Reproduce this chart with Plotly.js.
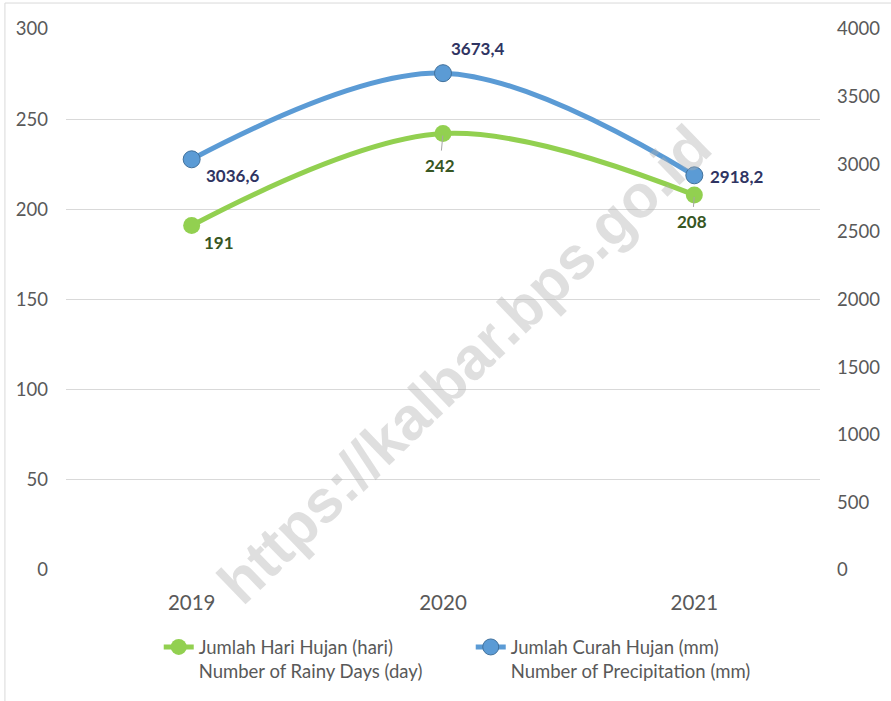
<!DOCTYPE html>
<html>
<head>
<meta charset="utf-8">
<script src="https://cdn.plot.ly/plotly-3.0.1.min.js"></script>
<style>html,body{margin:0;padding:0;background:#fff;}#chart{width:891px;height:701px;}</style>
</head>
<body>
<div id="chart"></div>
<script>
const years = ["2019", "2020", "2021"];
const rainyDays = [191, 242, 208];
const precipitation = [3036.6, 3673.4, 2918.2];
const rainyLabels = ["191", "242", "208"];
const precipLabels = ["3036,6", "3673,4", "2918,2"];
const leftTicks = [0, 50, 100, 150, 200, 250, 300];
const rightTicks = [0, 500, 1000, 1500, 2000, 2500, 3000, 3500, 4000];
const seriesNames = [
  "Jumlah Hari Hujan (hari)<br>Number of Rainy Days (day)",
  "Jumlah Curah Hujan (mm)<br>Number of Precipitation (mm)"
];
const watermark = "https://kalbar.bps.go.id";

const green = "#92D050";
const blue = "#5B9BD5";
const FONT = "Lato, 'Open Sans', sans-serif";

const traces = [
  {
    x: years, y: rainyDays, name: seriesNames[0], yaxis: "y",
    type: "scatter", mode: "lines+markers",
    line: {color: green, width: 5, shape: "spline", smoothing: 1},
    marker: {color: green, size: 17, line: {color: green, width: 0}}
  },
  {
    x: years, y: precipitation, name: seriesNames[1], yaxis: "y2",
    type: "scatter", mode: "lines+markers",
    line: {color: blue, width: 5, shape: "spline", smoothing: 1},
    marker: {color: blue, size: 17, line: {color: "#41719C", width: 1}}
  }
];

const greenOffsets = [[27, 17], [-3, 32], [-2, 27]];
const greenLeader = [false, true, true];
const blueOffsets = [[41, 16], [34, -25], [42, 1]];
const annotations = [];
years.forEach((yr, i) => {
  const g = {
    x: i, y: rainyDays[i], xref: "x", yref: "y",
    text: "<b>" + rainyLabels[i] + "</b>",
    font: {family: FONT, size: 17, color: "#375623"}
  };
  if (greenLeader[i]) {
    Object.assign(g, {showarrow: true, arrowhead: 0, arrowwidth: 1, arrowcolor: "#A6A6A6",
      ax: greenOffsets[i][0], ay: greenOffsets[i][1], startstandoff: 3, standoff: 2});
  } else {
    Object.assign(g, {showarrow: false, xshift: greenOffsets[i][0], yshift: -greenOffsets[i][1]});
  }
  annotations.push(g);
  annotations.push({
    x: i, y: precipitation[i], xref: "x", yref: "y2",
    text: "<b>" + precipLabels[i] + "</b>", showarrow: false,
    xshift: blueOffsets[i][0], yshift: -blueOffsets[i][1],
    font: {family: FONT, size: 17, color: "#2F3462"}
  });
});
annotations.push({
  x: 0.528, y: 0.38, xref: "paper", yref: "paper",
  text: "<b>" + watermark + "</b>", showarrow: false, textangle: -44,
  font: {family: "'Liberation Sans', Arial, sans-serif", size: 60, color: "rgba(175,175,175,0.4)"}
});

const layout = {
  width: 891, height: 701,
  margin: {l: 66, r: 71, t: 29, b: 131, autoexpand: false},
  paper_bgcolor: "#fff", plot_bgcolor: "#fff",
  font: {family: FONT, color: "#595959"},
  showlegend: true,
  xaxis: {
    type: "category", range: [-0.5, 2.5],
    showgrid: false, zeroline: false, showline: false,
    ticks: "", ticklabelstandoff: 18,
    tickfont: {family: FONT, size: 20.5, color: "#595959"}
  },
  yaxis: {
    range: [0, 300], tickvals: leftTicks, ticktext: leftTicks.map(String),
    showgrid: true, gridcolor: "#D9D9D9", gridwidth: 1,
    zeroline: false, showline: false, ticks: "", ticklabelstandoff: 17,
    tickfont: {family: FONT, size: 18.5, color: "#595959"}
  },
  yaxis2: {
    range: [0, 4000], tickvals: rightTicks, ticktext: rightTicks.map(String),
    overlaying: "y", side: "right",
    showgrid: false, zeroline: false, showline: false, ticks: "", ticklabelstandoff: 16,
    tickfont: {family: FONT, size: 18.5, color: "#595959"}
  },
  legend: {
    orientation: "h", x: 0.123, y: -0.108, xanchor: "left", yanchor: "top",
    valign: "top", entrywidth: 267, entrywidthmode: "pixels",
    font: {family: FONT, size: 18.5, color: "#595959"},
    bgcolor: "rgba(0,0,0,0)"
  },
  shapes: [
    {type: "line", xref: "paper", yref: "paper", x0: -0.081, x1: -0.081, y0: -0.25, y1: 1.048, line: {color: "#D9D9D9", width: 1}},
    {type: "line", xref: "paper", yref: "paper", x0: -0.081, x1: 1.1, y0: 1.048, y1: 1.048, line: {color: "#D9D9D9", width: 1}}
  ],
  annotations: annotations
};

Plotly.newPlot("chart", traces, layout, {displayModeBar: false, staticPlot: true});
</script>
</body>
</html>
